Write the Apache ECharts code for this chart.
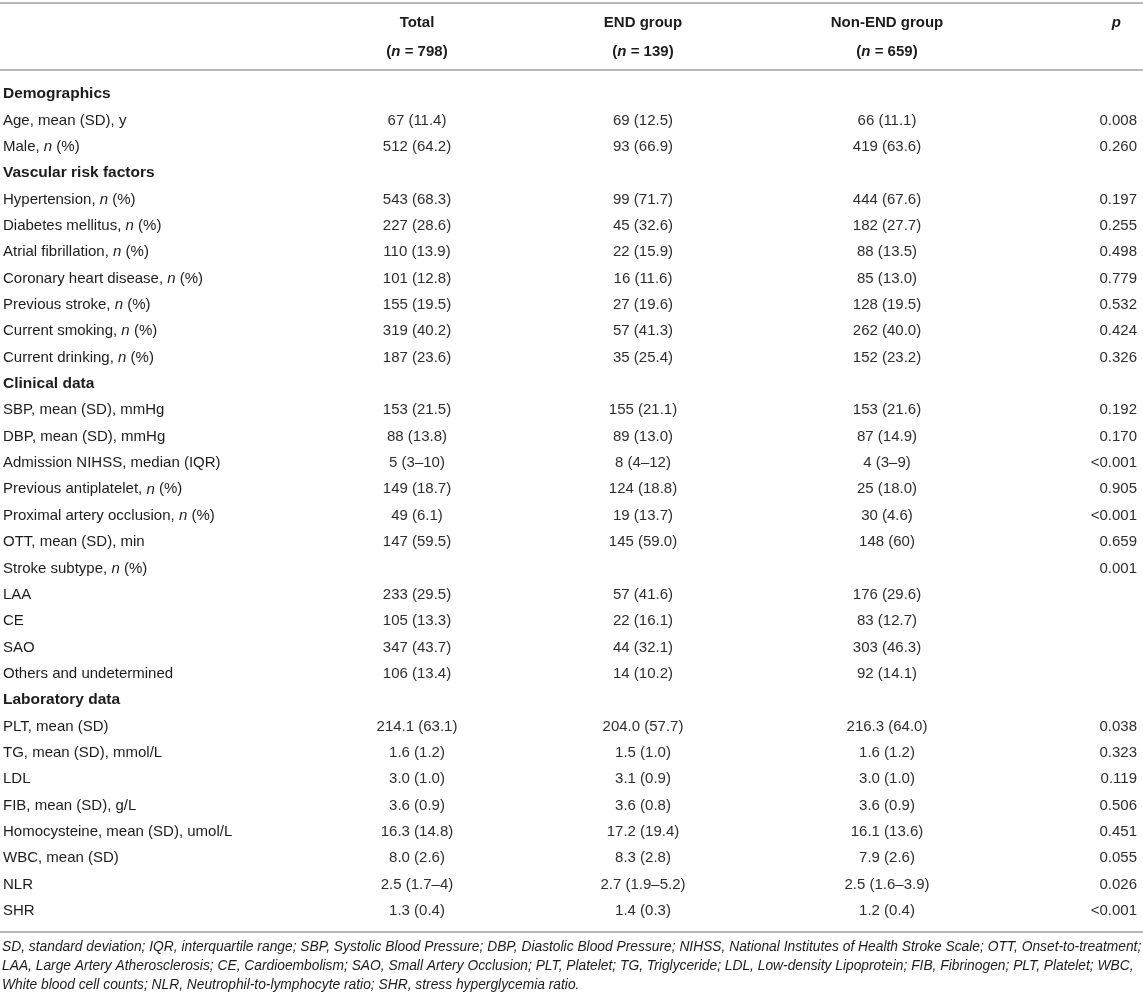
<!DOCTYPE html>
<html lang="en">
<head>
<meta charset="UTF-8">
<title>Baseline characteristics</title>
<script src="https://cdn.jsdelivr.net/npm/echarts@6/dist/echarts.min.js"></script>
<style>
  html, body { margin: 0; padding: 0; background: #fff; }
  #main { width: 1143px; height: 1000px; }
</style>
</head>
<body>
<div id="main"></div>
<script>
// table content, one entry per body row
var rowLabels = [
  'Demographics',
  'Age, mean (SD), y',
  'Male, {i|n} (%)',
  'Vascular risk factors',
  'Hypertension, {i|n} (%)',
  'Diabetes mellitus, {i|n} (%)',
  'Atrial fibrillation, {i|n} (%)',
  'Coronary heart disease, {i|n} (%)',
  'Previous stroke, {i|n} (%)',
  'Current smoking, {i|n} (%)',
  'Current drinking, {i|n} (%)',
  'Clinical data',
  'SBP, mean (SD), mmHg',
  'DBP, mean (SD), mmHg',
  'Admission NIHSS, median (IQR)',
  'Previous antiplatelet, {i|n} (%)',
  'Proximal artery occlusion, {i|n} (%)',
  'OTT, mean (SD), min',
  'Stroke subtype, {i|n} (%)',
  'LAA',
  'CE',
  'SAO',
  'Others and undetermined',
  'Laboratory data',
  'PLT, mean (SD)',
  'TG, mean (SD), mmol/L',
  'LDL',
  'FIB, mean (SD), g/L',
  'Homocysteine, mean (SD), umol/L',
  'WBC, mean (SD)',
  'NLR',
  'SHR'
];
var sectionRows = [0, 3, 11, 23];

var totalVals = ['', '67 (11.4)', '512 (64.2)', '', '543 (68.3)', '227 (28.6)', '110 (13.9)', '101 (12.8)',
  '155 (19.5)', '319 (40.2)', '187 (23.6)', '', '153 (21.5)', '88 (13.8)', '5 (3–10)', '149 (18.7)',
  '49 (6.1)', '147 (59.5)', '', '233 (29.5)', '105 (13.3)', '347 (43.7)', '106 (13.4)', '',
  '214.1 (63.1)', '1.6 (1.2)', '3.0 (1.0)', '3.6 (0.9)', '16.3 (14.8)', '8.0 (2.6)', '2.5 (1.7–4)', '1.3 (0.4)'];
var endVals = ['', '69 (12.5)', '93 (66.9)', '', '99 (71.7)', '45 (32.6)', '22 (15.9)', '16 (11.6)',
  '27 (19.6)', '57 (41.3)', '35 (25.4)', '', '155 (21.1)', '89 (13.0)', '8 (4–12)', '124 (18.8)',
  '19 (13.7)', '145 (59.0)', '', '57 (41.6)', '22 (16.1)', '44 (32.1)', '14 (10.2)', '',
  '204.0 (57.7)', '1.5 (1.0)', '3.1 (0.9)', '3.6 (0.8)', '17.2 (19.4)', '8.3 (2.8)', '2.7 (1.9–5.2)', '1.4 (0.3)'];
var nonEndVals = ['', '66 (11.1)', '419 (63.6)', '', '444 (67.6)', '182 (27.7)', '88 (13.5)', '85 (13.0)',
  '128 (19.5)', '262 (40.0)', '152 (23.2)', '', '153 (21.6)', '87 (14.9)', '4 (3–9)', '25 (18.0)',
  '30 (4.6)', '148 (60)', '', '176 (29.6)', '83 (12.7)', '303 (46.3)', '92 (14.1)', '',
  '216.3 (64.0)', '1.6 (1.2)', '3.0 (1.0)', '3.6 (0.9)', '16.1 (13.6)', '7.9 (2.6)', '2.5 (1.6–3.9)', '1.2 (0.4)'];
var pVals = ['', '0.008', '0.260', '', '0.197', '0.255', '0.498', '0.779',
  '0.532', '0.424', '0.326', '', '0.192', '0.170', '<0.001', '0.905',
  '<0.001', '0.659', '0.001', '', '', '', '', '',
  '0.038', '0.323', '0.119', '0.506', '0.451', '0.055', '0.026', '<0.001'];

var headTitles = ['', 'Total', 'END group', 'Non-END group', '{bi|p}'];
var headCounts = ['', '({bi|n} = 798)', '({bi|n} = 139)', '({bi|n} = 659)', ''];

var footnoteLines = [
  'SD, standard deviation; IQR, interquartile range; SBP, Systolic Blood Pressure; DBP, Diastolic Blood Pressure; NIHSS, National Institutes of Health Stroke Scale; OTT, Onset-to-treatment;',
  'LAA, Large Artery Atherosclerosis; CE, Cardioembolism; SAO, Small Artery Occlusion; PLT, Platelet; TG, Triglyceride; LDL, Low-density Lipoprotein; FIB, Fibrinogen; PLT, Platelet; WBC,',
  'White blood cell counts; NLR, Neutrophil-to-lymphocyte ratio; SHR, stress hyperglycemia ratio.'
];

// layout
var FONT = '"Liberation Sans", Arial, Helvetica, sans-serif';
var INK = '#1c1c1c';
var VAL_INK = '#2e2e2e';
var RULE = '#b8b8b8';
var colX = [3, 417, 643, 887, 1137];      // anchors of the five columns
var headX = [3, 417, 643, 887, 1121];
var colAlign = ['left', 'center', 'center', 'center', 'right'];

var bodyCols = [rowLabels, totalVals, endVals, nonEndVals, pVals];
var headRows = [headTitles, headCounts];

var bodyData = [];
bodyCols.forEach(function (col, c) {
  col.forEach(function (txt, r) {
    if (txt !== '') bodyData.push([c, r]);
  });
});
var headData = [];
headRows.forEach(function (row, r) {
  row.forEach(function (txt, c) {
    if (txt !== '') headData.push([c, r]);
  });
});

function richSet(size, bold) {
  return {
    i: { fontStyle: 'italic', fontWeight: bold ? 'bold' : 'normal', fontSize: size, fontFamily: FONT, fill: INK },
    bi: { fontStyle: 'italic', fontWeight: 'bold', fontSize: size, fontFamily: FONT, fill: INK }
  };
}

function bodyItem(params, api) {
  var c = api.value(0), r = api.value(1);
  var pt = api.coord([colX[c], r]);
  var bold = c === 0 && sectionRows.indexOf(r) >= 0;
  return {
    type: 'text',
    x: pt[0], y: pt[1] + 1,
    style: {
      text: bodyCols[c][r],
      fontFamily: FONT, fontSize: bold ? 15.5 : 15,
      fontWeight: bold ? 'bold' : 'normal',
      fill: c === 0 ? INK : VAL_INK,
      align: colAlign[c],
      verticalAlign: 'middle',
      rich: richSet(15, false)
    }
  };
}

function headItem(params, api) {
  var c = api.value(0), r = api.value(1);
  var pt = api.coord([headX[c], r]);
  return {
    type: 'text',
    x: pt[0], y: pt[1],
    style: {
      text: headRows[r][c],
      fontFamily: FONT, fontSize: 15, fontWeight: 'bold',
      fill: INK,
      align: colAlign[c],
      verticalAlign: 'middle',
      rich: richSet(15, true)
    }
  };
}

var rules = [3, 70, 932].map(function (y) {
  return {
    type: 'line', silent: true,
    shape: { x1: 0, y1: y, x2: 1143, y2: y },
    style: { stroke: RULE, lineWidth: 2 }
  };
});
var notes = footnoteLines.map(function (t, k) {
  return {
    type: 'text', silent: true,
    left: 2, top: 940 + k * 19,
    style: { text: t, fontFamily: FONT, fontSize: 13.8, fontStyle: 'italic', fill: INK }
  };
});

var chart = echarts.init(document.getElementById('main'), null, { renderer: 'canvas' });
chart.setOption({
  animation: false,
  grid: [
    { left: 0, right: 0, top: 80, height: 843 },   // body rows
    { left: 0, right: 0, top: 8.5, height: 58 }    // two header rows
  ],
  xAxis: [
    { type: 'value', gridIndex: 0, min: 0, max: 1143, show: false },
    { type: 'value', gridIndex: 1, min: 0, max: 1143, show: false }
  ],
  yAxis: [
    { type: 'category', gridIndex: 0, inverse: true, data: rowLabels.map(function (_, i) { return i; }), show: false },
    { type: 'category', gridIndex: 1, inverse: true, data: [0, 1], show: false }
  ],
  series: [
    { type: 'custom', xAxisIndex: 0, yAxisIndex: 0, data: bodyData, renderItem: bodyItem, silent: true },
    { type: 'custom', xAxisIndex: 1, yAxisIndex: 1, data: headData, renderItem: headItem, silent: true }
  ],
  graphic: rules.concat(notes)
});
</script>
</body>
</html>
